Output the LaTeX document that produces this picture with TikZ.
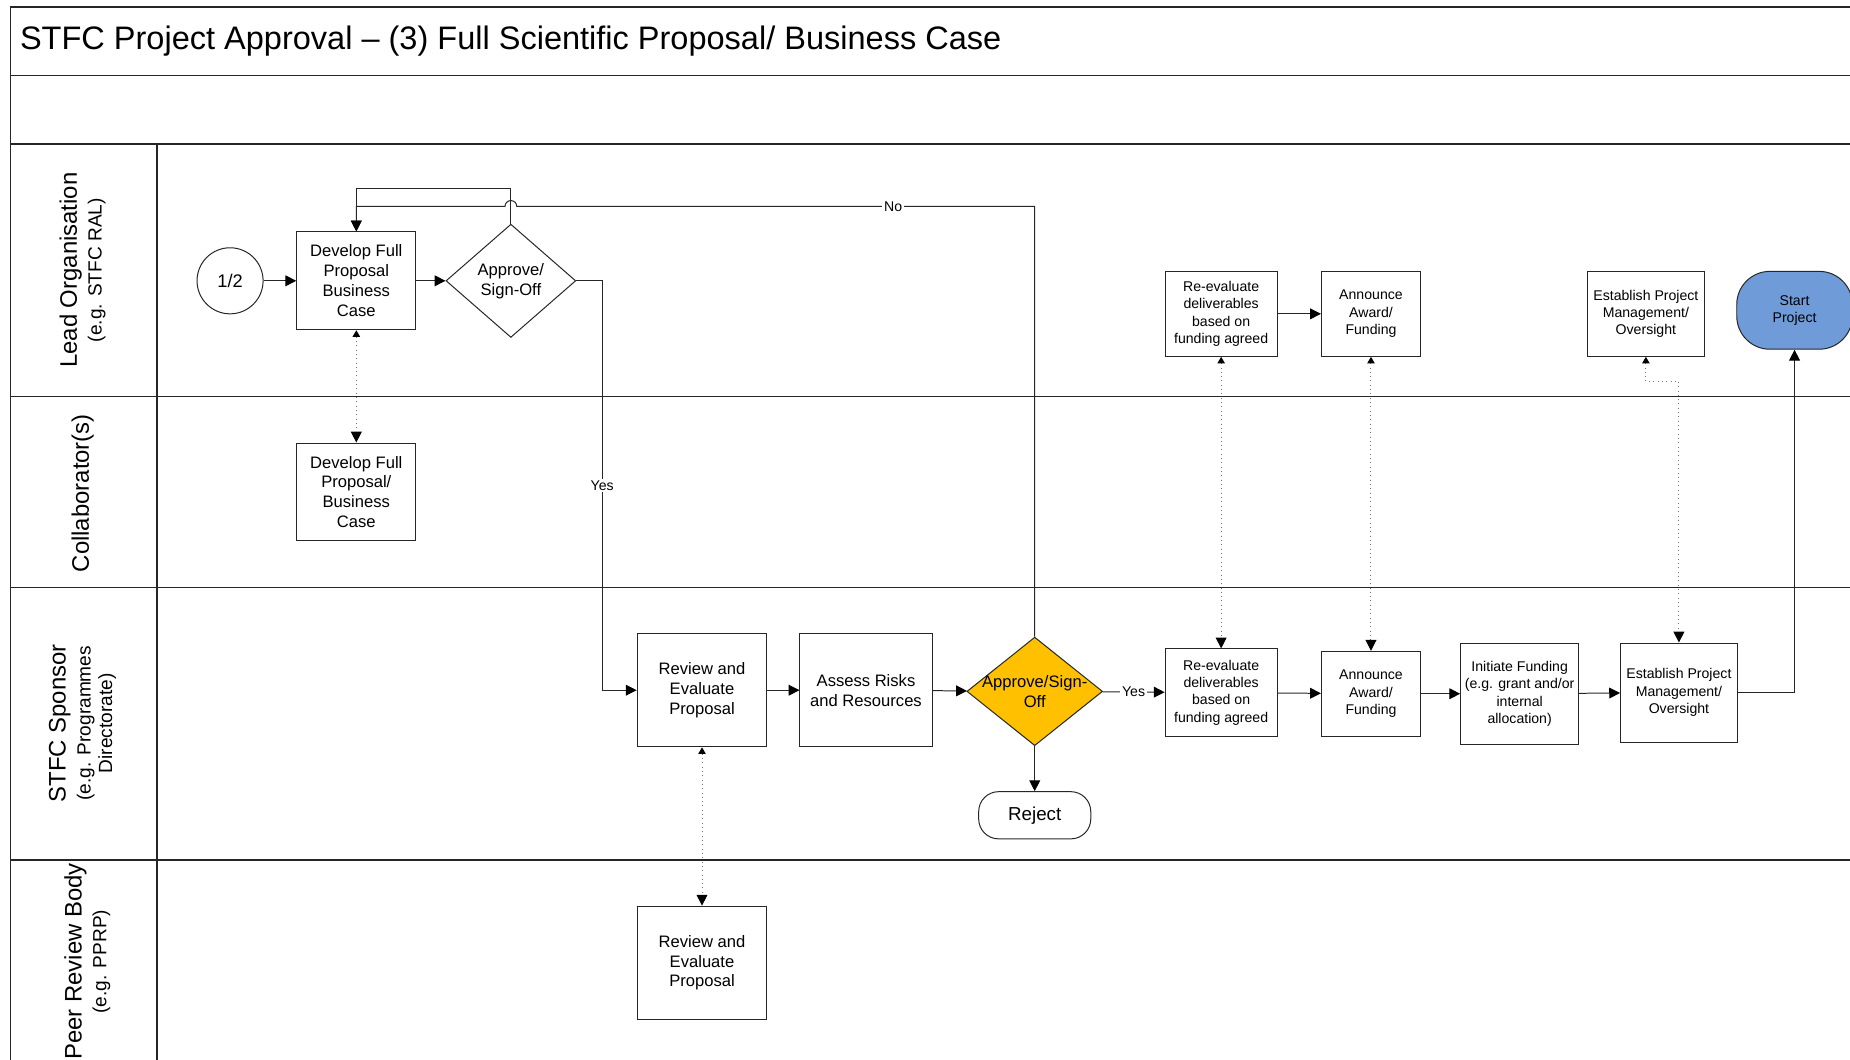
\documentclass[tikz,border=0pt]{standalone}
\usepackage{fontspec}
\setmainfont{Liberation Sans}
\usetikzlibrary{arrows.meta,shapes.geometric}

\definecolor{signorange}{HTML}{FFC000}
\definecolor{startblue}{HTML}{6F9BD8}

\begin{document}
\begin{tikzpicture}[x=0.025cm,y=-0.025cm,
    lane/.style={draw=black!85,line width=1pt},
    box/.style 2 args={draw=black!85,rectangle,align=center,inner sep=1pt,line width=0.6pt,
      minimum width=#1*0.025cm,minimum height=#2*0.025cm,font=\fontsize{10}{12}\selectfont},
    smallbox/.style 2 args={box={#1}{#2},font=\fontsize{8.5}{10.4}\selectfont},
    decision/.style 2 args={draw=black!85,diamond,inner sep=0pt,line width=0.6pt,
      minimum width=#1*0.025cm,minimum height=#2*0.025cm},
    dtext/.style={font=\fontsize{10}{12}\selectfont,align=center},
    lanehead/.style={rotate=90,align=center},
    edgelabel/.style={fill=white,inner sep=1pt,font=\fontsize{8.5}{10}\selectfont},
    flow/.style={draw=black!85,line width=0.6pt,-{Triangle[length=6.5pt,width=6.5pt,black]}},
    dotflow/.style={draw=black!55,line width=0.6pt,dotted,
      {Triangle[length=4pt,width=4.5pt,black]}-{Triangle[length=6.5pt,width=6.5pt,black]}}]
\clip (0,0) rectangle (1568,898);
            % Frame and lanes
\draw[lane] (9,898) -- (9,6) -- (1568,6);
\draw[lane] (9,64) -- (1568,64);
\draw[lane] (9,122) -- (1568,122);
\draw[lane] (9,336) -- (1568,336);
\draw[lane] (9,498) -- (1568,498);
\draw[lane] (9,729) -- (1568,729);
\draw[lane] (133,122) -- (133,898);
\node[anchor=west,font=\fontsize{19.6}{24}\selectfont] (title) at (12,35)
  {STFC Project Approval – (3) Full Scientific Proposal/ Business Case};
            % Lane headings
\node[lanehead] (hlead) at (70,229) {{\fontsize{14.4}{17}\selectfont Lead Organisation}\\[3pt]
  {\fontsize{11.5}{14}\selectfont (e.g. STFC RAL)}};
\node[lanehead] (hcollab) at (70,418) {\fontsize{14.4}{17}\selectfont Collaborator(s)};
\node[lanehead] (hsponsor) at (70,613) {{\fontsize{14.4}{17}\selectfont STFC Sponsor}\\[3pt]
  {\fontsize{11.5}{14}\selectfont (e.g. Programmes}\\[1pt]{\fontsize{11.5}{14}\selectfont Directorate)}};
\node[lanehead] (hpeer) at (74,815) {{\fontsize{14.4}{17}\selectfont Peer Review Body}\\[3pt]
  {\fontsize{11.5}{14}\selectfont (e.g. PPRP)}};
            % Lead Organisation
\node[draw=black!85,circle,line width=0.6pt,minimum size=56*0.025cm,
  font=\fontsize{11}{13}\selectfont] (conn) at (195,238) {1/2};
\node[box={101}{83}] (devlead) at (302,238) {Develop Full\\Proposal\\Business\\Case};
\node[decision={110}{96},label={[dtext]center:Approve/\\Sign-Off}] (apprlead) at (433,238) {};
\node[smallbox={95}{72}] (reevallead) at (1035,266) {Re-evaluate\\deliverables\\based on\\funding agreed};
\node[smallbox={84}{72}] (announcelead) at (1162,266) {Announce\\Award/\\Funding};
\node[smallbox={99}{72}] (estlead) at (1395,266) {Establish Project\\Management/\\Oversight};
\node[draw=black!85,fill=startblue,rounded corners=20pt,line width=0.6pt,align=center,
  minimum width=98*0.025cm,minimum height=66*0.025cm,
  font=\fontsize{8.5}{10.4}\selectfont] (start) at (1521,263) {Start\\Project};
            % Collaborator(s)
\node[box={101}{83}] (devcollab) at (302,417) {Develop Full\\Proposal/\\Business\\Case};
            % STFC Sponsor
\node[box={110}{96}] (review) at (595,585) {Review and\\Evaluate\\Proposal};
\node[box={112}{96}] (assess) at (734,585) {Assess Risks\\and Resources};
\node[decision={115}{92},fill=signorange,label={[dtext]center:Approve/Sign-\\Off}] (signoff) at (877,586) {};
\node[draw=black!85,rounded corners=12pt,line width=0.6pt,minimum width=95*0.025cm,
  minimum height=40*0.025cm,font=\fontsize{11.3}{13}\selectfont] (reject) at (877,691) {Reject};
\node[smallbox={95}{74}] (reevalsp) at (1035,587) {Re-evaluate\\deliverables\\based on\\funding agreed};
\node[smallbox={84}{72}] (announcesp) at (1162,588) {Announce\\Award/\\Funding};
\node[smallbox={100}{86}] (initiate) at (1288,588) {Initiate Funding\\(e.g. grant and/or\\internal\\allocation)};
\node[smallbox={99}{84}] (estsp) at (1423,587) {Establish Project\\Management/\\Oversight};
            % Peer Review Body
\node[box={110}{96}] (peer) at (595,816) {Review and\\Evaluate\\Proposal};
            % Flow
\draw[flow] (conn) -- (devlead);
\draw[flow] (devlead) -- (apprlead);
\draw[flow] (apprlead.north) -- ++(0,-30) -| (devlead.north);
\coordinate (hop) at (438,175);
\draw[flow] (signoff.north) |- (hop) arc[start angle=0,end angle=-180,radius=5] -| (devlead.north);
\node[edgelabel] (nolbl) at (757,175) {No};
\draw[flow] (apprlead.east) -- ++(22,0) |- node[pos=0.25,edgelabel]{Yes} (review.west);
\draw[flow] (review) -- (assess);
\draw[flow] (assess) -- (signoff);
\draw[flow] (signoff) -- (reject);
\draw[flow] (signoff) -- node[edgelabel]{Yes} (reevalsp);
\draw[flow] (reevalsp) -- (announcesp);
\draw[flow] (announcesp) -- (initiate);
\draw[flow] (initiate) -- (estsp);
\draw[flow] (estsp.east) -| (start.south);
\draw[flow] (reevallead) -- (announcelead);
            % Links between lanes
\draw[dotflow] (devlead) -- (devcollab);
\draw[dotflow] (review) -- (peer);
\draw[dotflow] (reevallead) -- (reevalsp);
\draw[dotflow] (announcelead) -- (announcesp);
\draw[dotflow] (estlead.south) -- ++(0,21) -| (estsp.north);

          \end{tikzpicture}
\end{document}
